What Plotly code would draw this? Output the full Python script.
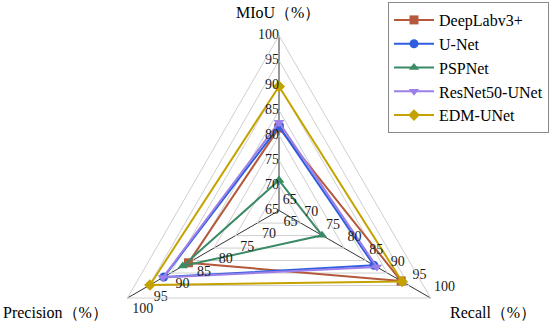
import plotly.graph_objects as go

# ---- data ----
axes_labels = ["MIoU（%）", "Recall（%）", "Precision（%）"]
models = ["DeepLabv3+", "U-Net", "PSPNet", "ResNet50-UNet", "EDM-UNet"]
deeplab = [81.5, 93.2, 85.9]
unet = [81.8, 86.9, 91.6]
pspnet = [71.0, 74.9, 87.2]
resnet50_unet = [82.6, 87.6, 91.8]
edm_unet = [89.8, 93.4, 94.8]
tick_values = [65, 70, 75, 80, 85, 90, 95, 100]
tick_labels = ["65", "70", "75", "80", "85", "90", "95", "100"]

series = [deeplab, unet, pspnet, resnet50_unet, edm_unet]
colors = ["#B5593C", "#2F5FE0", "#3A8A66", "#9C80E8", "#C4A300"]
symbols = ["square", "circle", "triangle-up", "triangle-down", "diamond"]

FONT = "Liberation Serif, Times New Roman, serif"
W, H = 550, 400

fig = go.Figure()
for name, vals, c, s in zip(models, series, colors, symbols):
    fig.add_trace(go.Scatterpolar(
        r=vals + vals[:1], theta=axes_labels + axes_labels[:1],
        mode="lines+markers", name=name,
        line=dict(color=c, width=2),
        marker=dict(symbol=s, size=9, color=c),
    ))

# tick labels along each of the three axes
positions = ["middle left", "top right", "bottom right"]
pads = [0, 4, 6]
for ax, pos, pad in zip(axes_labels, positions, pads):
    fig.add_trace(go.Scatterpolar(
        r=tick_values, theta=[ax] * len(tick_values),
        mode="markers+text" if pad else "text",
        marker=dict(size=pad if pad else 1, opacity=0),
        text=tick_labels, textposition=pos, showlegend=False,
        textfont=dict(family=FONT, size=14, color="#1a1a1a"),
        cliponaxis=False, hoverinfo="skip",
    ))

cx, cy, R = 279, 210.5, 175
# axis titles (as text near each vertex)
title_pos = [(278, 12), (493, 312), (55, 312)]
annotations = [
    dict(text=t, x=x / W, y=1 - y / H, xref="paper", yref="paper",
         showarrow=False, xanchor="center", yanchor="middle",
         font=dict(family=FONT, size=16, color="black"))
    for t, (x, y) in zip(axes_labels, title_pos)
]

fig.update_layout(
    width=W, height=H,
    margin=dict(l=0, r=0, t=0, b=0),
    paper_bgcolor="white", plot_bgcolor="white",
    font=dict(family=FONT, size=16, color="black"),
    annotations=annotations,
    polar=dict(
        domain=dict(x=[(cx - R) / W, (cx + R) / W],
                    y=[1 - (cy + R) / H, 1 - (cy - R) / H]),
        bgcolor="white",
        gridshape="linear",
        radialaxis=dict(range=[64.95, 100], tickvals=tick_values,
                        showticklabels=False, showline=False, ticks="",
                        gridcolor="#cfcfcf", gridwidth=1),
        angularaxis=dict(direction="clockwise", rotation=90,
                         gridcolor="#333333", gridwidth=1,
                         linecolor="#cfcfcf", linewidth=1, ticks="",
                         showticklabels=False),
    ),
    legend=dict(x=388 / W, y=1 - 2 / H, xanchor="left", yanchor="top",
                bordercolor="#8a8a8a", borderwidth=1, bgcolor="white",
                itemwidth=40, font=dict(family=FONT, size=16, color="black")),
    showlegend=True,
)

fig.write_html("out.html", config={"displayModeBar": False}, post_script=(
    "document.body.style.margin='0';"
    "document.body.style.overflow='hidden';"
    "document.documentElement.style.overflow='hidden';"))
